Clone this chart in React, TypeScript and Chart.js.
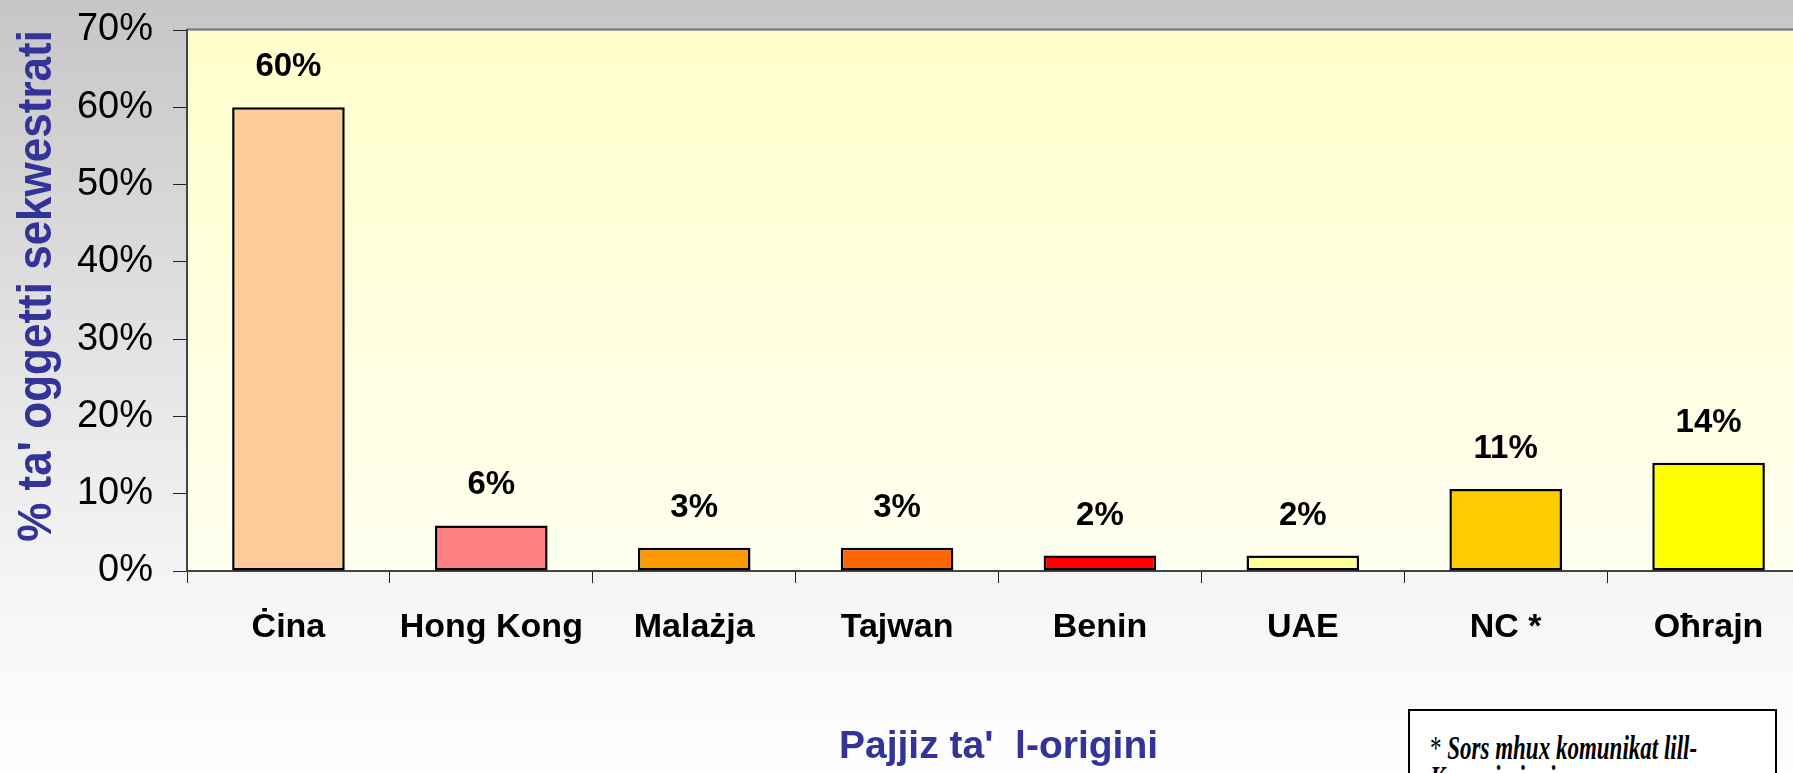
import React, { useEffect, useRef } from 'react';
import { Chart, registerables } from 'chart.js';

Chart.register(...registerables);

const categories = ['Ċina', 'Hong Kong', 'Malażja', 'Tajwan', 'Benin', 'UAE', 'NC *', 'Oħrajn'];
const shares = [60, 5.9, 3, 3, 2, 2, 10.6, 14];
const barColors = ['#FFCC99', '#FF8080', '#FF9900', '#FF6600', '#FF0000', '#FFFF99', '#FFCC00', '#FFFF00'];
const yMin = 0;
const yMax = 70;
const yStep = 10;
const yTitle = "% ta' oggetti sekwestrati";
const xTitle = "Pajjiz ta'  l-origini";
const footnoteMark = '*';
const footnoteLines = ['Sors mhux komunikat lill-', 'Kummissjoni'];

const FAMILY = '"Liberation Sans", Arial, Helvetica, sans-serif';

const backgroundPlugin = {
  id: 'bgPlugin',
  beforeDraw(chart: any) {
    const { ctx, width, height, chartArea } = chart;
    ctx.save();
    const g = ctx.createLinearGradient(0, 0, 0, height);
    g.addColorStop(0, '#C6C6C6');
    g.addColorStop(0.5, '#E6E6E6');
    g.addColorStop(0.78, '#F6F6F6');
    g.addColorStop(1, '#FEFEFE');
    ctx.fillStyle = g;
    ctx.fillRect(0, 0, width, height);
    const { left, right, top, bottom } = chartArea;
    const pg = ctx.createLinearGradient(0, top, 0, bottom);
    pg.addColorStop(0, '#FFFFCC');
    pg.addColorStop(1, '#FFFFF0');
    ctx.fillStyle = pg;
    ctx.fillRect(left, top, right - left, bottom - top);
    ctx.strokeStyle = '#808080';
    ctx.lineWidth = 2.5;
    ctx.beginPath();
    ctx.moveTo(left, top - 0.5);
    ctx.lineTo(right + 20, top - 0.5);
    ctx.stroke();
    ctx.restore();
  },
};

const labelPlugin = {
  id: 'valueLabels',
  afterDatasetsDraw(chart: any) {
    const { ctx } = chart;
    const meta = chart.getDatasetMeta(0);
    ctx.save();
    ctx.font = `bold 33px ${FAMILY}`;
    ctx.fillStyle = '#000';
    ctx.textAlign = 'center';
    ctx.textBaseline = 'middle';
    meta.data.forEach((bar: any, i: number) => {
      ctx.fillText(`${Math.round(shares[i])}%`, bar.x, bar.y - 40);
    });
    ctx.restore();
  },
};

const yTitlePlugin = {
  id: 'yTitle',
  afterDraw(chart: any) {
    const { ctx } = chart;
    ctx.save();
    ctx.translate(51, 286);
    ctx.rotate(-Math.PI / 2);
    ctx.scale(1, 1.1);
    ctx.font = `bold 44px ${FAMILY}`;
    ctx.fillStyle = '#333399';
    ctx.textAlign = 'center';
    ctx.textBaseline = 'alphabetic';
    ctx.fillText(yTitle, 0, 0);
    ctx.restore();
  },
};

export default function App() {
  const ref = useRef<HTMLCanvasElement | null>(null);

  useEffect(() => {
    if (!ref.current) return;
    const chart = new Chart(ref.current, {
      type: 'bar',
      data: {
        labels: categories,
        datasets: [
          {
            data: shares,
            backgroundColor: barColors,
            borderColor: '#000000',
            borderWidth: 2.5,
            borderSkipped: false,
            barPercentage: 0.555,
            categoryPercentage: 1,
          },
        ],
      },
      options: {
        animation: false,
        responsive: false,
        devicePixelRatio: 1,
        layout: { padding: { left: 0, right: 20, top: 30, bottom: 0 } },
        plugins: {
          legend: { display: false },
          tooltip: { enabled: false },
        },
        scales: {
          x: {
            type: 'category',
            offset: true,
            grid: {
              display: true,
              drawOnChartArea: false,
              drawTicks: true,
              tickLength: 12,
              color: '#222',
              lineWidth: 1,
              offset: true,
            },
            border: { display: true, color: '#444', width: 2 },
            ticks: {
              color: '#000',
              font: { family: FAMILY, size: 34, weight: 'bold' },
              padding: 24,
              maxRotation: 0,
              autoSkip: false,
            },
            title: {
              display: true,
              text: xTitle,
              color: '#333399',
              font: { family: FAMILY, size: 39, weight: 'bold' },
              padding: { top: 0, bottom: 2 },
            },
            afterFit: (s: any) => {
              s.height = 202;
              s.paddingLeft = 0;
              s.paddingRight = 0;
            },
          },
          y: {
            min: yMin,
            max: yMax,
            ticks: {
              stepSize: yStep,
              callback: (v: any) => `${v}%`,
              color: '#000',
              font: { family: FAMILY, size: 38 },
              padding: 20,
            },
            grid: {
              drawOnChartArea: false,
              drawTicks: true,
              tickLength: 14,
              color: '#222',
              lineWidth: 1,
            },
            border: { display: true, color: '#444', width: 2 },
            afterFit: (s: any) => {
              s.width = 187;
              s.paddingTop = 0;
              s.paddingBottom = 0;
            },
          },
        },
      },
      plugins: [backgroundPlugin, labelPlugin, yTitlePlugin],
    } as any);
    return () => chart.destroy();
  }, []);

  return (
    <div
      style={{
        position: 'fixed',
        left: 0,
        top: 0,
        width: 1793,
        height: 773,
        overflow: 'hidden',
        background: '#fff',
      }}
    >
      <canvas ref={ref} width={1830} height={773} style={{ display: 'block' }} />
      <div
        style={{
          position: 'absolute',
          left: 1408,
          top: 709,
          width: 369,
          height: 120,
          border: '2px solid #000',
          boxSizing: 'border-box',
          background: '#fff',
        }}
      >
        <div
          style={{
            position: 'absolute',
            left: 20,
            top: 22,
            transform: 'scaleY(1.5)',
            transformOrigin: '0 0',
            font: 'italic bold 23px "Liberation Serif", "Times New Roman", serif',
            lineHeight: '20px',
            whiteSpace: 'nowrap',
            color: '#000',
          }}
        >
          <span style={{ fontStyle: 'normal', fontWeight: 'normal' }}>{footnoteMark}</span> {footnoteLines[0]}
          <br />
          {footnoteLines[1]}
        </div>
      </div>
    </div>
  );
}
